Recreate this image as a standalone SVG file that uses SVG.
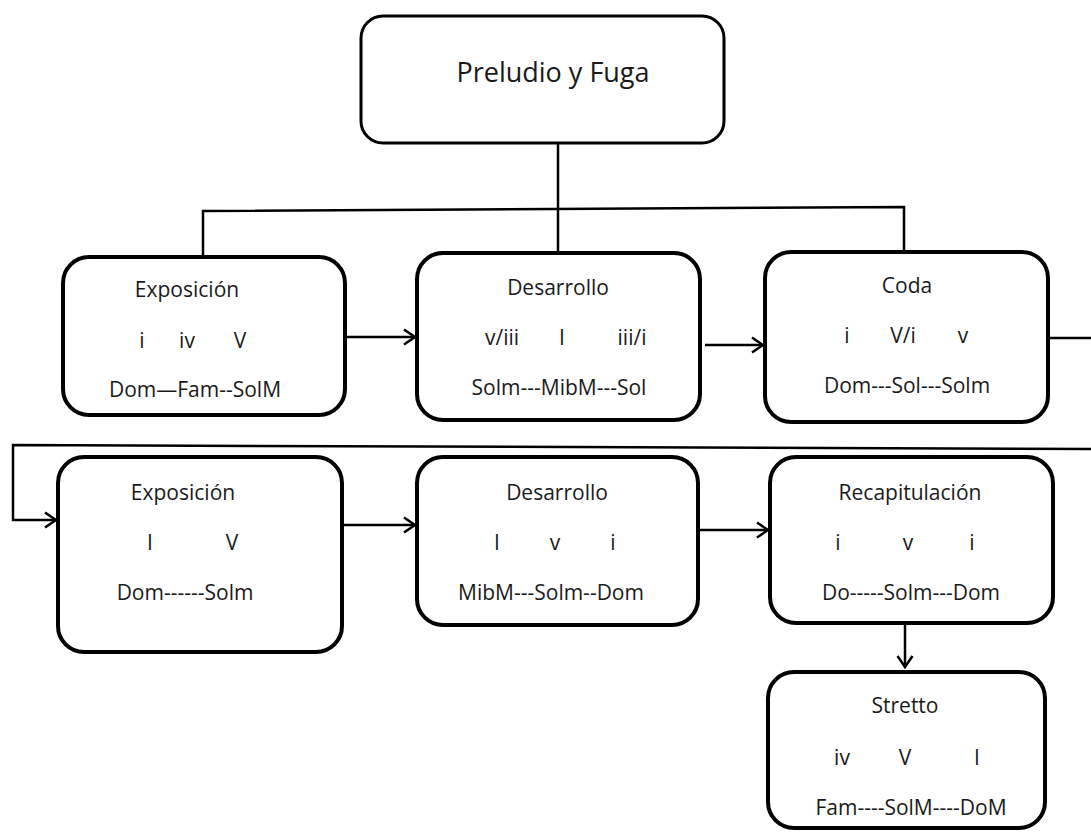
<svg xmlns="http://www.w3.org/2000/svg" width="1091" height="838" viewBox="0 0 1091 838">
<style>
.box{fill:#fff;stroke:#000;stroke-width:4}
.top{fill:#fff;stroke:#000;stroke-width:3}
.c{fill:none;stroke:#000;stroke-width:2.5}
text{font-family:"Open Sans","Noto Sans","Liberation Sans",sans-serif;font-size:21px;fill:#1a1a1a;text-anchor:middle}
.t{font-size:27px}
</style>
<defs>
<marker id="ah" markerWidth="16" markerHeight="18" refX="13" refY="9" orient="auto" markerUnits="userSpaceOnUse">
<path d="M2,1.5 L13,9 L2,16.5" fill="none" stroke="#000" stroke-width="2.5"/>
</marker>
</defs>
<g id="connectors">
<path class="c" d="M558,143 V252"/>
<path class="c" d="M203,256 V211 L904,207 V252"/>
<path class="c" d="M345,337 H415" marker-end="url(#ah)"/>
<path class="c" d="M705,345 H763" marker-end="url(#ah)"/>
<path class="c" d="M1048,338 H1091"/>
<path class="c" d="M1091,449 L13,445 V520 H56" marker-end="url(#ah)"/>
<path class="c" d="M342,525 H415" marker-end="url(#ah)"/>
<path class="c" d="M698,530 H768" marker-end="url(#ah)"/>
<path class="c" d="M905,623 V667" marker-end="url(#ah)"/>
</g>
<g id="n0"><rect class="top" x="361" y="16" width="363" height="127" rx="22"/><text class="t" x="553" y="82">Preludio y Fuga</text></g>
<g id="n1"><rect class="box" x="63" y="257" width="282" height="158" rx="26"/>
<text x="187" y="297">Exposición</text>
<text x="142" y="348">i</text><text x="187" y="348">iv</text><text x="240" y="348">V</text>
<text x="195" y="397">Dom—Fam--SolM</text></g>
<g id="n2"><rect class="box" x="417" y="253" width="283" height="167" rx="26"/>
<text x="558" y="295">Desarrollo</text>
<text x="502" y="345">v/iii</text><text x="562" y="345">I</text><text x="632" y="345">iii/i</text>
<text x="559" y="395">Solm---MibM---Sol</text></g>
<g id="n3"><rect class="box" x="765" y="252" width="283" height="170" rx="26"/>
<text x="907" y="293">Coda</text>
<text x="847" y="343">i</text><text x="903" y="343">V/i</text><text x="963" y="343">v</text>
<text x="907" y="393">Dom---Sol---Solm</text></g>
<g id="n4"><rect class="box" x="58" y="457" width="284" height="195" rx="26"/>
<text x="183" y="500">Exposición</text>
<text x="150" y="550">I</text><text x="232" y="550">V</text>
<text x="185" y="600">Dom------Solm</text></g>
<g id="n5"><rect class="box" x="417" y="457" width="281" height="168" rx="26"/>
<text x="557" y="500">Desarrollo</text>
<text x="497" y="550">I</text><text x="555" y="550">v</text><text x="613" y="550">i</text>
<text x="551" y="600">MibM---Solm--Dom</text></g>
<g id="n6"><rect class="box" x="770" y="457" width="283" height="166" rx="26"/>
<text x="910" y="500">Recapitulación</text>
<text x="838" y="550">i</text><text x="908" y="550">v</text><text x="972" y="550">i</text>
<text x="911" y="600">Do-----Solm---Dom</text></g>
<g id="n7"><rect class="box" x="768" y="672" width="277" height="156" rx="26"/>
<text x="905" y="713">Stretto</text>
<text x="842" y="765">iv</text><text x="905" y="765">V</text><text x="977" y="765">I</text>
<text x="911" y="815">Fam----SolM----DoM</text></g>
</svg>
